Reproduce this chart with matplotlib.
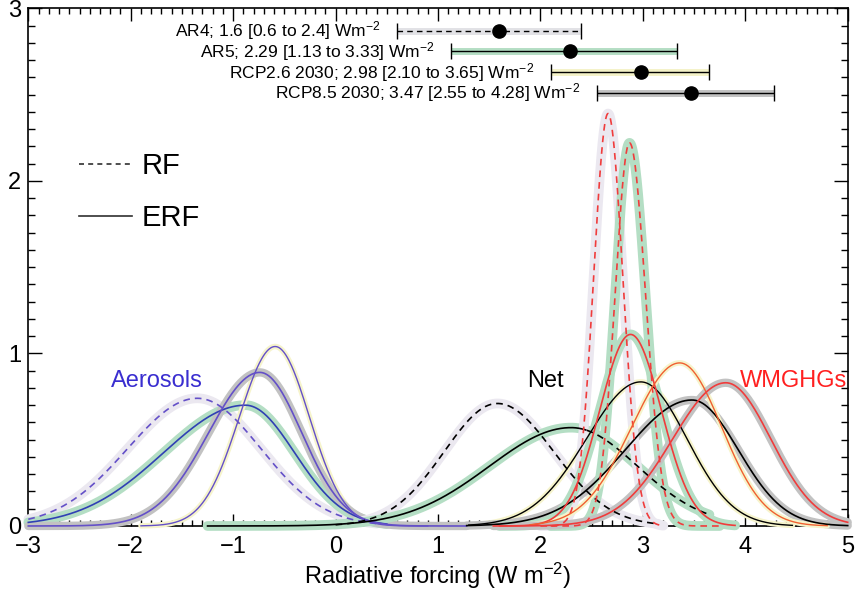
import numpy as np
import matplotlib.pyplot as plt
from matplotlib.lines import Line2D
from matplotlib.ticker import MultipleLocator

plt.rcParams['font.family'] = ['Liberation Sans', 'DejaVu Sans']
plt.rcParams['mathtext.default'] = 'regular'

# summary bars at the top: best estimate and 5-95% range (W m-2)
bar_labels = ['AR4; 1.6 [0.6 to 2.4] Wm$^{-2}$',
              'AR5; 2.29 [1.13 to 3.33] Wm$^{-2}$',
              'RCP2.6 2030; 2.98 [2.10 to 3.65] Wm$^{-2}$',
              'RCP8.5 2030; 3.47 [2.55 to 4.28] Wm$^{-2}$']
bar_best = [1.6, 2.29, 2.98, 3.47]
bar_low = [0.6, 1.13, 2.10, 2.55]
bar_high = [2.4, 3.33, 3.65, 4.28]
bar_y = [2.87, 2.75, 2.63, 2.51]

# pdf curves, grouped aerosols / net / WMGHG, each for AR4, AR5, RCP2.6, RCP8.5
cur_group = ['aer', 'aer', 'aer', 'aer', 'net', 'net', 'net', 'net',
             'ghg', 'ghg', 'ghg', 'ghg', 'ghg']
cur_case = ['AR4', 'AR5', 'RCP2.6', 'RCP8.5', 'AR4', 'AR5', 'RCP2.6', 'RCP8.5',
            'AR4', 'AR5', 'AR5', 'RCP2.6', 'RCP8.5']
cur_kind = ['RF', 'ERF', 'ERF', 'ERF', 'RF', 'ERF', 'ERF', 'ERF',
            'RF', 'RF', 'ERF', 'ERF', 'ERF']
cur_mode = [-1.35, -0.88, -0.59, -0.74, 1.58, 2.30, 2.98, 3.48,
            2.66, 2.87, 2.88, 3.36, 3.81]
cur_peak = [0.74, 0.70, 1.04, 0.89, 0.71, 0.57, 0.835, 0.73,
            2.39, 2.22, 1.11, 0.945, 0.83]
cur_sig_lo = [0.68, 0.80, 0.35, 0.50, 0.52, 0.80, 0.53, 0.65,
              0.14, 0.141, 0.30, 0.47, 0.52]
cur_sig_hi = [0.62, 0.48, 0.335, 0.41, 0.55, 0.65, 0.45, 0.45,
              0.144, 0.156, 0.30, 0.41, 0.44]
cur_xmin = [-3.0, -3.0, -1.9, -3.0, 0.0, -1.25, 1.3, 1.28,
            2.0, 2.1, 1.6, 1.9, 1.54]
cur_xmax = [0.4, 0.5, 0.9, 1.28, 3.15, 3.65, 4.46, 5.0,
            3.2, 3.75, 3.9, 4.8, 5.0]

line_col = {'aer': '#6450c8', 'net': 'black', 'ghg': '#f03c3c'}
halo_col = {'AR4': '#ebe8f0', 'AR5': '#b4dec4', 'RCP2.6': '#f6f4cc', 'RCP8.5': '#c2c2c2'}
halo_lw = {'AR4': 7, 'AR5': 7, 'RCP2.6': 4, 'RCP8.5': 6}


def split_gauss(x, mode, peak, s_lo, s_hi):
    s = np.where(x < mode, s_lo, s_hi)
    return peak * np.exp(-0.5 * ((x - mode) / s) ** 2)


fig, ax = plt.subplots(figsize=(8.58, 5.91), dpi=100)
fig.subplots_adjust(left=0.033, right=0.988, top=0.986, bottom=0.11)

for i in range(len(cur_mode)):
    x = np.linspace(cur_xmin[i], cur_xmax[i], 500)
    y = split_gauss(x, cur_mode[i], cur_peak[i], cur_sig_lo[i], cur_sig_hi[i])
    case = cur_case[i]
    col = line_col[cur_group[i]]
    if cur_group[i] == 'aer' and case == 'AR5':
        col = '#3040b4'
    if cur_group[i] == 'ghg' and case == 'RCP2.6':
        col = '#f06030'
    lw = 1.0 if case == 'RCP2.6' else 1.2
    ls = (0, (4, 3)) if cur_kind[i] == 'RF' else '-'
    ax.plot(x, y, color=halo_col[case], lw=halo_lw[case],
            solid_capstyle='round', clip_on=False, zorder=3)
    if cur_group[i] == 'net' and case == 'AR5':
        # right flank of the AR5 net curve is dashed
        cut = x <= 2.45
        ax.plot(x[cut], y[cut], color=col, lw=lw, clip_on=False, zorder=4)
        ax.plot(x[~cut], y[~cut], color=col, lw=lw, ls=(0, (4, 3)),
                clip_on=False, zorder=4)
    else:
        ax.plot(x, y, color=col, lw=lw, ls=ls, clip_on=False, zorder=4)

# top summary bars
bar_halo = ['#e2e2e6', '#b4dec4', '#f4f2c8', '#c2c2c2']
for i in range(len(bar_best)):
    ax.plot([bar_low[i], bar_high[i]], [bar_y[i], bar_y[i]], color=bar_halo[i],
            lw=5, solid_capstyle='butt', zorder=3)
    eb = ax.errorbar(bar_best[i], bar_y[i],
                     xerr=[[bar_best[i] - bar_low[i]], [bar_high[i] - bar_best[i]]],
                     fmt='o', color='black', ms=9.5, capsize=6, elinewidth=1.0,
                     capthick=1.0, zorder=5)
    if i == 0:
        eb[2][0].set_linestyle((0, (4, 3)))
    ax.annotate(bar_labels[i], xy=(bar_low[i], bar_y[i]), xytext=(-12, 0),
                textcoords='offset points', ha='right', va='center', fontsize=12.5)

ax.text(-1.74, 0.84, 'Aerosols', color='#3a2ed0', fontsize=17, ha='center', va='center')
ax.text(2.05, 0.84, 'Net', color='black', fontsize=17, ha='center', va='center')
ax.text(4.47, 0.84, 'WMGHGs', color='#ff2020', fontsize=17, ha='center', va='center')

handles = [Line2D([], [], color='#303030', lw=1.2, ls=(0, (3, 2.5))),
           Line2D([], [], color='#303030', lw=1.2)]
ax.legend(handles, ['RF', 'ERF'], loc='upper left', bbox_to_anchor=(0.062, 0.722),
          frameon=False, fontsize=21, handlelength=1.8, handletextpad=0.35,
          labelspacing=0.82, borderpad=0, borderaxespad=0)

ax.set_xlim(-3, 5)
ax.set_ylim(0, 3)
ax.xaxis.set_major_locator(MultipleLocator(1))
ax.xaxis.set_minor_locator(MultipleLocator(0.1))
ax.yaxis.set_major_locator(MultipleLocator(1))
ax.yaxis.set_minor_locator(MultipleLocator(0.1))
ax.tick_params(which='both', direction='in', top=True, right=True, width=1.0)
ax.tick_params(axis='x', which='major', length=9, pad=7, labelsize=17)
ax.tick_params(axis='x', which='minor', length=4)
ax.tick_params(axis='y', which='major', length=10, pad=5, labelsize=17)
ax.tick_params(axis='y', which='minor', length=5)
for sp in ax.spines.values():
    sp.set_linewidth(1.2)
ax.set_xlabel('Radiative forcing (W m$^{-2}$)', fontsize=17, labelpad=2)

fig.savefig('out.png', dpi=100)
